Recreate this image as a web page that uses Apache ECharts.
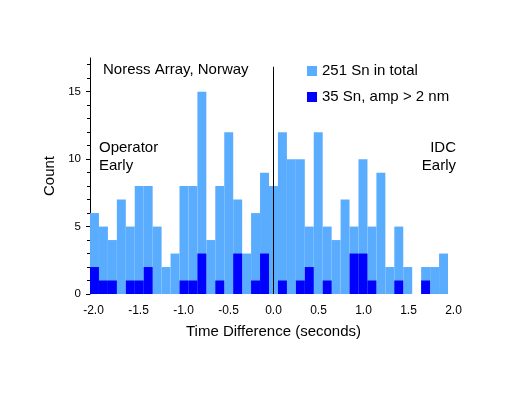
<!DOCTYPE html>
<html>
<head>
<meta charset="utf-8">
<script src="https://cdn.jsdelivr.net/npm/echarts@6/dist/echarts.min.js"></script>
<style>
html,body{margin:0;padding:0;background:#fff;}
#chart{width:509px;height:393px;}
</style>
</head>
<body>
<div id="chart"></div>
<script>
// bins of 0.1 s from -2.0 to 2.0 (bin start values)
var binStarts = ['-2.0','-1.9','-1.8','-1.7','-1.6','-1.5','-1.4','-1.3','-1.2','-1.1',
                 '-1.0','-0.9','-0.8','-0.7','-0.6','-0.5','-0.4','-0.3','-0.2','-0.1',
                 '0.0','0.1','0.2','0.3','0.4','0.5','0.6','0.7','0.8','0.9',
                 '1.0','1.1','1.2','1.3','1.4','1.5','1.6','1.7','1.8','1.9'];
var totalCounts = [6,5,4,7,5,8,8,5,2,3, 8,8,15,4,8,12,7,3,6,9,
                   8,12,10,10,5,12,5,4,7,5, 10,5,9,2,5,2,0,2,2,3];
var strongCounts = [2,1,1,0,1,1,2,0,0,0, 1,1,3,0,1,0,3,0,1,3,
                    0,1,0,1,2,0,1,0,0,3, 3,1,0,0,1,0,0,1,0,0];
var xTicks = [-2.0,-1.5,-1.0,-0.5,0.0,0.5,1.0,1.5,2.0];
var yMajorTicks = [0,5,10,15];
var yMinorTicks = [0,1,2,3,4,5,6,7,8,9,10,11,12,13,14,15,16,17];
var zeroLine = [[0,0],[0,16.85]];
var seriesNames = ['251 Sn in total','35 Sn, amp > 2 nm'];

var FONT = '"Liberation Sans", Arial, Helvetica, sans-serif';
var chart = echarts.init(document.getElementById('chart'), null, {renderer:'canvas'});
var yMax = 17.5;
chart.setOption({
  animation:false,
  backgroundColor:'#ffffff',
  textStyle:{fontFamily:FONT,color:'#000'},
  legend:{
    orient:'vertical', left:307, top:63, padding:0, itemWidth:10, itemHeight:10, itemGap:10,
    icon:'rect',
    data:seriesNames,
    textStyle:{fontFamily:FONT,fontSize:15,color:'#000',lineHeight:16},
    selectedMode:false
  },
  grid:[
    {left:90, right:61, top:58, bottom:99, containLabel:false},
    {left:93.5, right:55.5, top:58, bottom:99, containLabel:false}
  ],
  xAxis:[
    {type:'category', gridIndex:0, data:binStarts, boundaryGap:true,
     axisLine:{show:false}, axisTick:{show:false}, axisLabel:{show:false}, splitLine:{show:false}},
    {type:'value', gridIndex:1, min:-2, max:2, interval:0.5,
     axisLine:{show:false}, axisTick:{show:false}, splitLine:{show:false},
     axisLabel:{customValues:xTicks, fontSize:12, fontFamily:FONT, color:'#000', margin:11,
       formatter:function(v){return v.toFixed(1);}},
     name:'Time Difference (seconds)', nameLocation:'middle', nameGap:30,
     nameTextStyle:{fontSize:15,fontFamily:FONT,color:'#000'}}
  ],
  yAxis:[
    {type:'value', gridIndex:0, position:'left', min:0, max:yMax,
     axisLine:{show:true, lineStyle:{color:'#000',width:1}},
     axisTick:{show:true, customValues:yMajorTicks, length:4, lineStyle:{color:'#000'}},
     axisLabel:{customValues:yMajorTicks, fontSize:11.5, fontFamily:FONT, color:'#000', margin:9},
     splitLine:{show:false},
     name:'Count', nameLocation:'middle', nameGap:33, nameRotate:90,
     nameTextStyle:{fontSize:15,fontFamily:FONT,color:'#000'}},
    {type:'value', gridIndex:0, position:'left', offset:0, min:0, max:yMax,
     axisLine:{show:false},
     axisTick:{show:true, customValues:yMinorTicks, length:3, lineStyle:{color:'#000'}},
     axisLabel:{show:false}, splitLine:{show:false}},
    {type:'value', gridIndex:1, min:0, max:yMax, show:false}
  ],
  series:[
    {name:seriesNames[0], type:'bar', xAxisIndex:0, yAxisIndex:0, data:totalCounts,
     barCategoryGap:0, barGap:'-100%', itemStyle:{color:'#5aacff'}, z:2},
    {name:seriesNames[1], type:'bar', xAxisIndex:0, yAxisIndex:0, data:strongCounts,
     barCategoryGap:0, barGap:'-100%', itemStyle:{color:'#0000ff'}, z:3},
    {type:'line', xAxisIndex:1, yAxisIndex:2, data:zeroLine, symbol:'none',
     lineStyle:{color:'#000',width:1}, z:5, silent:true}
  ],
  graphic:[
    {type:'text', left:103, top:62, style:{text:'Noress Array, Norway', font:'15px '+FONT, fill:'#000'}},
    {type:'text', left:99, top:139, style:{text:'Operator\nEarly', font:'15px '+FONT, fill:'#000', lineHeight:18}},
    {type:'text', x:456, y:139, style:{text:'IDC\nEarly', font:'15px '+FONT, fill:'#000', lineHeight:18, align:'right', verticalAlign:'top'}}
  ]
});
</script>
</body>
</html>
